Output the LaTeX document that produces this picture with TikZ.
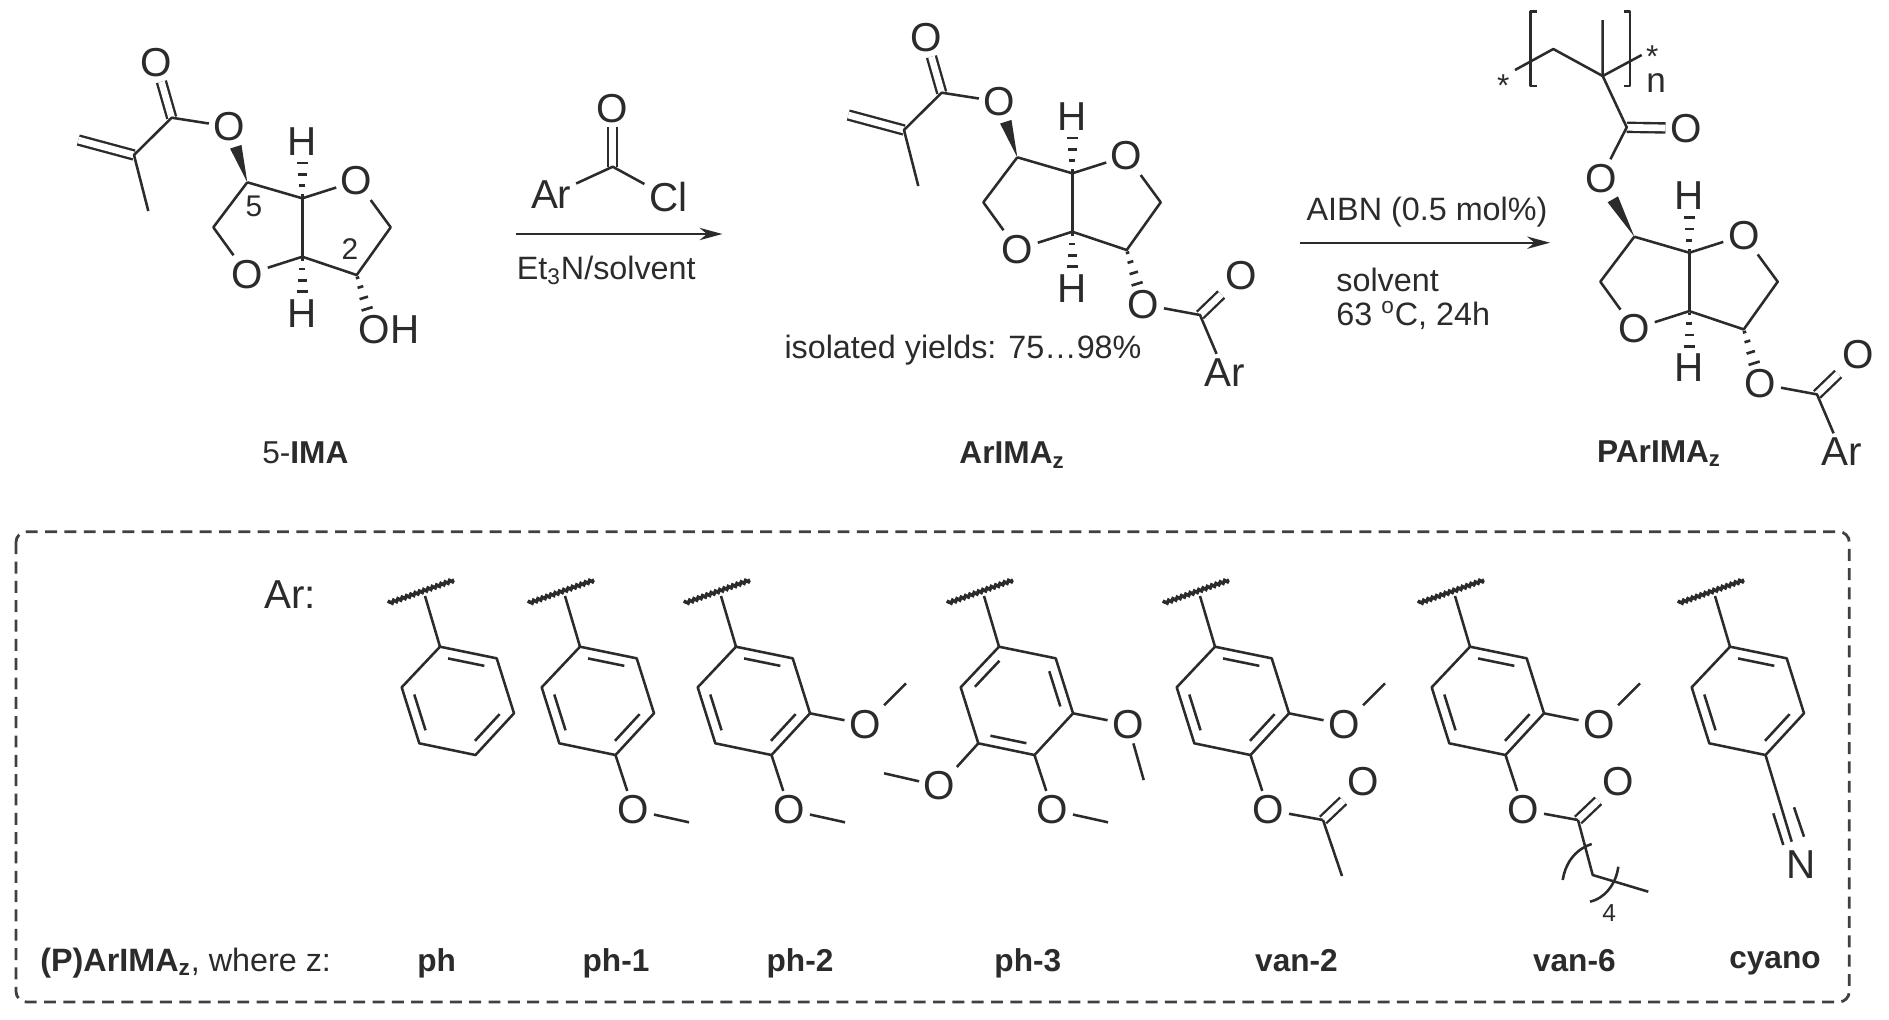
\documentclass[tikz,border=0pt]{standalone}
\usepackage{fontspec}
\setmainfont{Liberation Sans}
\usetikzlibrary{calc,arrows.meta,decorations.pathmorphing}

\definecolor{ink}{HTML}{2B2B2B}
\tikzset{
  bond/.style={draw=ink, line width=1.45pt, line join=round},
  dbl/.style={draw=ink, line width=1.35pt, double=white, double distance=3.8pt},
  hash/.style={draw=ink, line width=1.5pt},
  atom/.style={text=ink, inner sep=2.5pt, font=\fontsize{23}{25}\selectfont},
  cond/.style={text=ink, inner sep=0pt, anchor=base, font=\fontsize{18.4}{20}\selectfont},
  tag/.style={text=ink, inner sep=0pt, anchor=base, font=\fontsize{18}{20}\selectfont},
  num/.style={text=ink, inner sep=0pt, font=\fontsize{17}{19}\selectfont},
  rxn/.style={draw=ink, line width=1.3pt, -{Stealth[length=13pt,width=7pt]}},
  wavy/.style={draw=ink, line width=1.9pt, decorate, decoration={snake, amplitude=0.7pt, segment length=2.6pt}},
  dashbox/.style={draw=ink!90, line width=1.6pt, rounded corners=6pt, dash pattern=on 6.8pt off 4.2pt},
}

\newcommand{\hashbond}[2]{%
  \foreach \frc/\wid in {0.05/1pt,0.22/1.7pt,0.42/2.5pt,0.62/3.3pt}
    \draw[hash] ($(#1)!\frc!(#2)!\wid!90:(#1)$) -- ($(#1)!\frc!(#2)!\wid!-90:(#1)$);
}
\newcommand{\wedgebond}[2]{%
  \coordinate (wtip) at ($(#1)!0.64!(#2)$);
  \fill[ink] (#1) -- ($(wtip)!3.4pt!90:(#1)$) -- ($(wtip)!3.4pt!-90:(#1)$) -- cycle;
}
% fused rings, #1 is where the upper O sits
\newcommand{\sorbide}[1]{%
  \coordinate (c5) at (247.3,182.3);
  \coordinate (ctop) at (302.3,198.3);
  \coordinate (cbot) at (302.3,256.7);
  \coordinate (c2) at (356.7,275);
  \coordinate (chr) at (390.7,227.3);
  \coordinate (chl) at (213.3,227.3);
  \coordinate (o2) at (373.5,329.5);
  \node[atom] (orr) at (356.7,181) {O};
  \node[atom] (orl) at (247.3,274.3) {O};
  \node[atom] (hup) at (302.3,141.5) {H};
  \node[atom] (hdn) at (302.3,313.3) {H};
  \node[atom] (oe) at (#1) {O};
  \draw[bond] (c5) -- (ctop) -- (orr) -- (chr) -- (c2) -- (cbot) -- (orl) -- (chl) -- (c5);
  \draw[bond] (ctop) -- (cbot);
  \hashbond{ctop}{hup}
  \hashbond{cbot}{hdn}
  \hashbond{c2}{o2}
  \wedgebond{c5}{oe}
}
\newcommand{\methacryl}{%
  \node[atom] (oc) at (156,62.7) {O};
  \coordinate (cc) at (171.7,117.7);
  \coordinate (ca) at (134,155);
  \coordinate (cme) at (148.3,211);
  \coordinate (cvi) at (78.3,140);
  \draw[dbl] (cc) -- (oc);
  \draw[dbl] (ca) -- (cvi);
  \draw[bond] (oe) -- (cc) -- (ca) -- (cme);
}
\newcommand{\arester}{%
  \node[atom] (eo) at (o2) {O};
  \coordinate (ec) at (430,340);
  \node[atom] (ed) at (471,300.5) {O};
  \node[atom] (ear) at (454.5,397.5) {Ar};
  \draw[dbl] (ec) -- (ed);
  \draw[bond] (eo) -- (ec) -- (ear);
}
% benzene ring, origin at the carbon under the stem, #1 lists the double bonds
\newcommand{\arylring}[1]{%
  \coordinate (a) at (0,0);
  \coordinate (b) at (56.7,11.6);
  \coordinate (c) at (74,66.6);
  \coordinate (d) at (35.5,108.3);
  \coordinate (e) at (-20.7,96.6);
  \coordinate (f) at (-38.3,40.6);
  \coordinate (ctr) at (17.5,54);
  \coordinate (stem) at (-15,-50.7);
  \coordinate (wl) at (-51.7,-43.4);
  \coordinate (wr) at (14,-66.7);
  \draw[wavy] (wl) -- (wr);
  \draw[bond] (stem) -- (a);
  \draw[bond] (a) -- (b) -- (c) -- (d) -- (e) -- (f) -- cycle;
  \foreach \va/\vb in {#1}
    \draw[bond] ($(ctr)!0.8!($(\va)!0.1!(\vb)$)$) -- ($(ctr)!0.8!($(\vb)!0.1!(\va)$)$);
}
\newcommand{\ometc}{%
  \node[atom] (om3) at (129,77.6) {O};
  \coordinate (me3) at (170,36.6);
  \draw[bond] (c) -- (om3) -- (me3);
}
\newcommand{\ometd}{%
  \node[atom] (om4) at (53.5,163.3) {O};
  \coordinate (me4) at (109,175.6);
  \draw[bond] (d) -- (om4) -- (me4);
}
\newcommand{\acyld}{%
  \node[atom] (om4) at (53.5,163.3) {O};
  \coordinate (ac) at (108,173.3);
  \node[atom] (ad) at (148.3,135) {O};
  \draw[dbl] (ac) -- (ad);
  \draw[bond] (d) -- (om4) -- (ac);
}

\begin{document}
\begin{tikzpicture}[x=0.02cm, y=-0.02cm]
  \useasboundingbox (0,0) rectangle (1889,1019);

  % 5-IMA
  \begin{scope}[name prefix=m1-]
    \sorbide{229.3,126.7}
    \methacryl
    \node[atom] (oh) at (389,329.5) {OH};
    \node[num] (n5) at (254,206) {5};
    \node[num] (n2) at (350,249.3) {2};
  \end{scope}
  \node[tag] (imatag) at (305.3,463) {5-\textbf{IMA}};

  % acid chloride over the first arrow
  \node[atom] (rar) at (551.2,195) {Ar};
  \coordinate (rc) at (612.7,166.7);
  \node[atom] (ro) at (612.7,108.3) {O};
  \node[atom] (rcl) at (668.2,197) {Cl};
  \draw[dbl] (rc) -- (ro);
  \draw[bond] (rar) -- (rc) -- (rcl);
  \coordinate (a1s) at (516.3,234);
  \coordinate (a1e) at (722.4,234);
  \draw[rxn] (a1s) -- (a1e);
  \node[cond] (base) at (606.3,279.3) {Et\textsubscript{3}N/solvent};

  % ArIMAz
  \begin{scope}[shift={(770,-25)}, name prefix=m2-]
    \sorbide{229.3,126.7}
    \methacryl
    \arester
  \end{scope}
  \node[cond] (yld) at (963,358.3) {isolated yields: 75…98\%};
  \node[tag] (armtag) at (1012,463.5) {\textbf{ArIMA\textsubscript{z}}};

  % second arrow
  \coordinate (a2s) at (1300,242.7);
  \coordinate (a2e) at (1550,242.7);
  \draw[rxn] (a2s) -- (a2e);
  \node[cond] (aibn) at (1427,220) {AIBN (0.5 mol\%)};
  \node[cond, anchor=base west] (solv) at (1336,291.7) {solvent};
  \node[cond, anchor=base west] (temp) at (1336,325) {63 \textsuperscript{o}C, 24h};

  % PArIMAz
  \begin{scope}[shift={(1387,54.4)}, name prefix=m3-]
    \sorbide{213.7,123.9}
    \arester
  \end{scope}
  \coordinate (pc) at (1626.7,127.3);
  \node[atom] (po) at (1686,128.3) {O};
  \coordinate (pq) at (1602.7,76);
  \coordinate (pme) at (1602.7,20);
  \coordinate (pch) at (1553.3,49);
  \coordinate (pl) at (1515,70);
  \coordinate (pr) at (1641.7,55);
  \draw[dbl] (pc) -- (po);
  \draw[bond] (m3-oe) -- (pc) -- (pq) -- (pme);
  \draw[bond] (pl) -- (pch) -- (pq) -- (pr);
  \draw[bond] (1536.7,11.7) -- (1530.7,11.7) -- (1530.7,86) -- (1536.7,86);
  \draw[bond] (1624,11.7) -- (1630,11.7) -- (1630,86) -- (1624,86);
  \node[text=ink, inner sep=0pt, font=\fontsize{18}{20}\selectfont] (stl) at (1503.3,85.6) {*};
  \node[text=ink, inner sep=0pt, font=\fontsize{18}{20}\selectfont] (str) at (1652.3,56.6) {*};
  \node[text=ink, inner sep=0pt, font=\fontsize{20}{22}\selectfont] (nsub) at (1656,83) {n};
  \node[tag] (parmtag) at (1659,462) {\textbf{PArIMA\textsubscript{z}}};

  % legend box
  \draw[dashbox] (16,531.7) rectangle (1849.3,1002);
  \node[atom, anchor=base] (arlab) at (290,608) {Ar:};
  \node[cond, anchor=base west] (where) at (40,971) {\textbf{(P)ArIMA\textsubscript{z}}, where z:};

  \begin{scope}[shift={(440,646.7)}, name prefix=r1-]
    \arylring{a/b,c/d,e/f}
  \end{scope}
  \begin{scope}[shift={(580,646.7)}, name prefix=r2-]
    \arylring{a/b,c/d,e/f}
    \ometd
  \end{scope}
  \begin{scope}[shift={(736,646.7)}, name prefix=r3-]
    \arylring{a/b,c/d,e/f}
    \ometc
    \ometd
  \end{scope}
  \begin{scope}[shift={(999,646.7)}, name prefix=r4-]
    \arylring{f/a,b/c,d/e}
    \node[atom] (om3) at (129,77.6) {O};
    \coordinate (me3) at (144.7,133.3);
    \draw[bond] (c) -- (om3) -- (me3);
    \ometd
    \node[atom] (om5) at (-59.4,139.3) {O};
    \coordinate (me5) at (-114.9,126.6);
    \draw[bond] (e) -- (om5) -- (me5);
  \end{scope}
  \begin{scope}[shift={(1215,646.7)}, name prefix=r5-]
    \arylring{a/b,c/d,e/f}
    \ometc
    \acyld
    \coordinate (ame) at (127,229.3);
    \draw[bond] (ac) -- (ame);
  \end{scope}
  \begin{scope}[shift={(1470,646.7)}, name prefix=r6-]
    \arylring{a/b,c/d,e/f}
    \ometc
    \acyld
    \coordinate (ach) at (122.7,228.3);
    \coordinate (aend) at (178.3,245);
    \draw[bond] (ac) -- (ach) -- (aend);
    \draw[bond] (121.7,197.3) .. controls (104,203) and (95,218) .. (92.7,233.3);
    \draw[bond] (148.3,220) .. controls (146,238) and (134,252) .. (120,255);
    \node[text=ink, inner sep=0pt, font=\fontsize{14}{16}\selectfont] (cnt) at (139.3,266.6) {4};
  \end{scope}
  \begin{scope}[shift={(1730,646.7)}, name prefix=r7-]
    \arylring{a/b,c/d,e/f}
    \coordinate (cnend) at (61.7,195);
    \node[atom] (nn) at (70.7,217.6) {N};
    \draw[bond] (d) -- (cnend);
    \draw[bond] (43.3,166.6) -- (53.3,198.3);
    \draw[bond] (64,160.6) -- (74,190);
  \end{scope}

  \node[tag] (zph) at (436.7,971.7) {\textbf{ph}};
  \node[tag] (zph1) at (616,971.7) {\textbf{ph-1}};
  \node[tag] (zph2) at (800,971.7) {\textbf{ph-2}};
  \node[tag] (zph3) at (1027.8,971.7) {\textbf{ph-3}};
  \node[tag] (zvan2) at (1296.5,971.7) {\textbf{van-2}};
  \node[tag] (zvan6) at (1574.3,971.7) {\textbf{van-6}};
  \node[tag] (zcyano) at (1775,968.3) {\textbf{cyano}};
\end{tikzpicture}
\end{document}
